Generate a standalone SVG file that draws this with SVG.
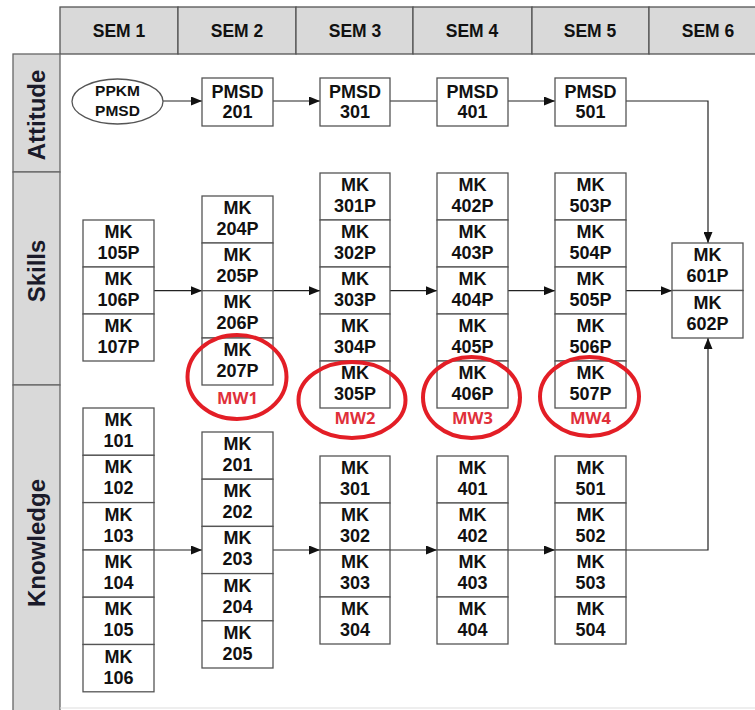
<svg xmlns="http://www.w3.org/2000/svg" width="755" height="710" viewBox="0 0 755 710">
<style>
.hdr{fill:#d9d9d9;stroke:#555;stroke-width:1.3}
.side{fill:#d9d9d9;stroke:#666;stroke-width:1.3}
.box{fill:#fff;stroke:#555;stroke-width:1.3}
.t{font-family:"Liberation Sans",Arial,sans-serif;font-weight:bold;font-size:18px;fill:#111;text-anchor:middle}
.h{font-family:"Liberation Sans",Arial,sans-serif;font-weight:bold;font-size:17.5px;fill:#111;text-anchor:middle}
.s{font-family:"Liberation Sans",Arial,sans-serif;font-weight:bold;font-size:24px;fill:#1a1a2a;text-anchor:middle}
.e{font-family:"Liberation Sans",Arial,sans-serif;font-weight:bold;font-size:15.5px;fill:#111;text-anchor:middle}
.mw{font-family:"Open Sans","Liberation Sans",Arial,sans-serif;font-weight:bold;font-size:16.5px;fill:#e0303a;text-anchor:middle}
.ring{fill:none;stroke:#e31e26;stroke-width:4}
.c{fill:none;stroke:#222;stroke-width:1.2}
</style>
<defs>
<marker id="ah" markerWidth="11" markerHeight="9" refX="11" refY="4.5" orient="auto" markerUnits="userSpaceOnUse">
<path d="M0,0 L11,4.5 L0,9 Z" fill="#111"/>
</marker>
</defs>
<rect width="755" height="710" fill="#fff"/>

<g id="header">
<rect class="hdr" x="60" y="7" width="118" height="47"/>
<rect class="hdr" x="178" y="7" width="118" height="47"/>
<rect class="hdr" x="296" y="7" width="117" height="47"/>
<rect class="hdr" x="413" y="7" width="119" height="47"/>
<rect class="hdr" x="532" y="7" width="117" height="47"/>
<rect class="hdr" x="649" y="7" width="120" height="47"/>
<text class="h" x="119" y="37">SEM 1</text>
<text class="h" x="237" y="37">SEM 2</text>
<text class="h" x="355" y="37">SEM 3</text>
<text class="h" x="472" y="37">SEM 4</text>
<text class="h" x="590" y="37">SEM 5</text>
<text class="h" x="708" y="37">SEM 6</text>
</g>

<g id="rows">
<rect class="side" x="13" y="54" width="47" height="118"/>
<rect class="side" x="13" y="172" width="47" height="213"/>
<rect class="side" x="13" y="385" width="47" height="330"/>
<line x1="60" y1="708" x2="755" y2="708" stroke="#ddd" stroke-width="1"/>
<text class="s" transform="translate(44.5,115) rotate(-90)">Attitude</text>
<text class="s" transform="translate(44.5,271) rotate(-90)">Skills</text>
<text class="s" transform="translate(44.5,543) rotate(-90)">Knowledge</text>
</g>

<g id="connectors">
<line class="c" x1="163" y1="101" x2="202" y2="101" marker-end="url(#ah)"/>
<line class="c" x1="273" y1="101" x2="320" y2="101" marker-end="url(#ah)"/>
<line class="c" x1="390" y1="101" x2="437" y2="101"/>
<line class="c" x1="508" y1="101" x2="555" y2="101" marker-end="url(#ah)"/>
<polyline class="c" points="626,101 708,101 708,243" marker-end="url(#ah)"/>
<line class="c" x1="154" y1="290.7" x2="202" y2="290.7" marker-end="url(#ah)"/>
<line class="c" x1="273" y1="290.7" x2="320" y2="290.7" marker-end="url(#ah)"/>
<line class="c" x1="390" y1="290.7" x2="437" y2="290.7" marker-end="url(#ah)"/>
<line class="c" x1="508" y1="290.7" x2="555" y2="290.7" marker-end="url(#ah)"/>
<line class="c" x1="626" y1="290.7" x2="672" y2="290.7" marker-end="url(#ah)"/>
<line class="c" x1="154" y1="550" x2="202" y2="550" marker-end="url(#ah)"/>
<line class="c" x1="273" y1="550" x2="320" y2="550" marker-end="url(#ah)"/>
<line class="c" x1="390" y1="550" x2="437" y2="550" marker-end="url(#ah)"/>
<line class="c" x1="508" y1="550" x2="555" y2="550" marker-end="url(#ah)"/>
<polyline class="c" points="626,550 708,550 708,338" marker-end="url(#ah)"/>
</g>

<!-- Attitude -->
<g id="ppkm-pmsd"><ellipse class="box" cx="117.5" cy="101.5" rx="45.5" ry="22.5"/><text class="e" x="117.5" y="96">PPKM</text><text class="e" x="117.5" y="116">PMSD</text></g>
<g id="pmsd201"><rect class="box" x="202" y="78" width="71" height="48"/><text class="t" x="237.5" y="98">PMSD</text><text class="t" x="237.5" y="118">201</text></g>
<g id="pmsd301"><rect class="box" x="320" y="78" width="70" height="48"/><text class="t" x="355" y="98">PMSD</text><text class="t" x="355" y="118">301</text></g>
<g id="pmsd401"><rect class="box" x="437" y="78" width="71" height="48"/><text class="t" x="472.5" y="98">PMSD</text><text class="t" x="472.5" y="118">401</text></g>
<g id="pmsd501"><rect class="box" x="555" y="78" width="71" height="48"/><text class="t" x="590.5" y="98">PMSD</text><text class="t" x="590.5" y="118">501</text></g>

<!-- Skills SEM1 -->
<g id="mk105p"><rect class="box" x="83" y="220" width="71" height="47"/><text class="t" x="118.5" y="238">MK</text><text class="t" x="118.5" y="259">105P</text></g>
<g id="mk106p"><rect class="box" x="83" y="267" width="71" height="47"/><text class="t" x="118.5" y="285">MK</text><text class="t" x="118.5" y="306">106P</text></g>
<g id="mk107p"><rect class="box" x="83" y="314" width="71" height="47"/><text class="t" x="118.5" y="332">MK</text><text class="t" x="118.5" y="353">107P</text></g>
<!-- Skills SEM2 -->
<g id="mk204p"><rect class="box" x="202" y="196" width="71" height="47"/><text class="t" x="237.5" y="214">MK</text><text class="t" x="237.5" y="235">204P</text></g>
<g id="mk205p"><rect class="box" x="202" y="243" width="71" height="47.7"/><text class="t" x="237.5" y="261">MK</text><text class="t" x="237.5" y="282">205P</text></g>
<g id="mk206p"><rect class="box" x="202" y="290.7" width="71" height="47.3"/><text class="t" x="237.5" y="308">MK</text><text class="t" x="237.5" y="329">206P</text></g>
<g id="mk207p"><rect class="box" x="202" y="338" width="71" height="47"/><text class="t" x="237.5" y="356">MK</text><text class="t" x="237.5" y="377">207P</text></g>
<!-- Skills SEM3 -->
<g id="mk301p"><rect class="box" x="320" y="173" width="70" height="47"/><text class="t" x="355" y="191">MK</text><text class="t" x="355" y="212">301P</text></g>
<g id="mk302p"><rect class="box" x="320" y="220" width="70" height="47"/><text class="t" x="355" y="238">MK</text><text class="t" x="355" y="259">302P</text></g>
<g id="mk303p"><rect class="box" x="320" y="267" width="70" height="47"/><text class="t" x="355" y="285">MK</text><text class="t" x="355" y="306">303P</text></g>
<g id="mk304p"><rect class="box" x="320" y="314" width="70" height="47"/><text class="t" x="355" y="332">MK</text><text class="t" x="355" y="353">304P</text></g>
<g id="mk305p"><rect class="box" x="320" y="361" width="70" height="47"/><text class="t" x="355" y="379">MK</text><text class="t" x="355" y="400">305P</text></g>
<!-- Skills SEM4 -->
<g id="mk402p"><rect class="box" x="437" y="173" width="71" height="47"/><text class="t" x="472.5" y="191">MK</text><text class="t" x="472.5" y="212">402P</text></g>
<g id="mk403p"><rect class="box" x="437" y="220" width="71" height="47"/><text class="t" x="472.5" y="238">MK</text><text class="t" x="472.5" y="259">403P</text></g>
<g id="mk404p"><rect class="box" x="437" y="267" width="71" height="47"/><text class="t" x="472.5" y="285">MK</text><text class="t" x="472.5" y="306">404P</text></g>
<g id="mk405p"><rect class="box" x="437" y="314" width="71" height="47"/><text class="t" x="472.5" y="332">MK</text><text class="t" x="472.5" y="353">405P</text></g>
<g id="mk406p"><rect class="box" x="437" y="361" width="71" height="47"/><text class="t" x="472.5" y="379">MK</text><text class="t" x="472.5" y="400">406P</text></g>
<!-- Skills SEM5 -->
<g id="mk503p"><rect class="box" x="555" y="173" width="71" height="47"/><text class="t" x="590.5" y="191">MK</text><text class="t" x="590.5" y="212">503P</text></g>
<g id="mk504p"><rect class="box" x="555" y="220" width="71" height="47"/><text class="t" x="590.5" y="238">MK</text><text class="t" x="590.5" y="259">504P</text></g>
<g id="mk505p"><rect class="box" x="555" y="267" width="71" height="47"/><text class="t" x="590.5" y="285">MK</text><text class="t" x="590.5" y="306">505P</text></g>
<g id="mk506p"><rect class="box" x="555" y="314" width="71" height="47"/><text class="t" x="590.5" y="332">MK</text><text class="t" x="590.5" y="353">506P</text></g>
<g id="mk507p"><rect class="box" x="555" y="361" width="71" height="47"/><text class="t" x="590.5" y="379">MK</text><text class="t" x="590.5" y="400">507P</text></g>
<!-- Skills SEM6 -->
<g id="mk601p"><rect class="box" x="672" y="243" width="71" height="47.5"/><text class="t" x="707.5" y="261">MK</text><text class="t" x="707.5" y="282">601P</text></g>
<g id="mk602p"><rect class="box" x="672" y="290.5" width="71" height="47.5"/><text class="t" x="707.5" y="308.5">MK</text><text class="t" x="707.5" y="329.5">602P</text></g>

<!-- Knowledge SEM1 -->
<g id="mk101"><rect class="box" x="83" y="408" width="71" height="47.3"/><text class="t" x="118.5" y="426">MK</text><text class="t" x="118.5" y="447">101</text></g>
<g id="mk102"><rect class="box" x="83" y="455.3" width="71" height="47.3"/><text class="t" x="118.5" y="473.3">MK</text><text class="t" x="118.5" y="494.3">102</text></g>
<g id="mk103"><rect class="box" x="83" y="502.6" width="71" height="47.4"/><text class="t" x="118.5" y="520.6">MK</text><text class="t" x="118.5" y="541.6">103</text></g>
<g id="mk104"><rect class="box" x="83" y="550" width="71" height="47.2"/><text class="t" x="118.5" y="568">MK</text><text class="t" x="118.5" y="589">104</text></g>
<g id="mk105"><rect class="box" x="83" y="597.2" width="71" height="47.3"/><text class="t" x="118.5" y="615.2">MK</text><text class="t" x="118.5" y="636.2">105</text></g>
<g id="mk106"><rect class="box" x="83" y="644.5" width="71" height="47.3"/><text class="t" x="118.5" y="662.5">MK</text><text class="t" x="118.5" y="683.5">106</text></g>
<!-- Knowledge SEM2 -->
<g id="mk201"><rect class="box" x="202" y="432" width="71" height="47.2"/><text class="t" x="237.5" y="450">MK</text><text class="t" x="237.5" y="471">201</text></g>
<g id="mk202"><rect class="box" x="202" y="479.2" width="71" height="47.2"/><text class="t" x="237.5" y="497.2">MK</text><text class="t" x="237.5" y="518.2">202</text></g>
<g id="mk203"><rect class="box" x="202" y="526.4" width="71" height="47.2"/><text class="t" x="237.5" y="544.4">MK</text><text class="t" x="237.5" y="565.4">203</text></g>
<g id="mk204"><rect class="box" x="202" y="573.6" width="71" height="47.2"/><text class="t" x="237.5" y="591.6">MK</text><text class="t" x="237.5" y="612.6">204</text></g>
<g id="mk205"><rect class="box" x="202" y="620.8" width="71" height="47.2"/><text class="t" x="237.5" y="638.8">MK</text><text class="t" x="237.5" y="659.8">205</text></g>
<!-- Knowledge SEM3 -->
<g id="mk301"><rect class="box" x="320" y="456" width="70" height="47"/><text class="t" x="355" y="474">MK</text><text class="t" x="355" y="495">301</text></g>
<g id="mk302"><rect class="box" x="320" y="503" width="70" height="47"/><text class="t" x="355" y="521">MK</text><text class="t" x="355" y="542">302</text></g>
<g id="mk303"><rect class="box" x="320" y="550" width="70" height="47"/><text class="t" x="355" y="568">MK</text><text class="t" x="355" y="589">303</text></g>
<g id="mk304"><rect class="box" x="320" y="597" width="70" height="47"/><text class="t" x="355" y="615">MK</text><text class="t" x="355" y="636">304</text></g>
<!-- Knowledge SEM4 -->
<g id="mk401"><rect class="box" x="437" y="456" width="71" height="47"/><text class="t" x="472.5" y="474">MK</text><text class="t" x="472.5" y="495">401</text></g>
<g id="mk402"><rect class="box" x="437" y="503" width="71" height="47"/><text class="t" x="472.5" y="521">MK</text><text class="t" x="472.5" y="542">402</text></g>
<g id="mk403"><rect class="box" x="437" y="550" width="71" height="47"/><text class="t" x="472.5" y="568">MK</text><text class="t" x="472.5" y="589">403</text></g>
<g id="mk404"><rect class="box" x="437" y="597" width="71" height="47"/><text class="t" x="472.5" y="615">MK</text><text class="t" x="472.5" y="636">404</text></g>
<!-- Knowledge SEM5 -->
<g id="mk501"><rect class="box" x="555" y="456" width="71" height="47"/><text class="t" x="590.5" y="474">MK</text><text class="t" x="590.5" y="495">501</text></g>
<g id="mk502"><rect class="box" x="555" y="503" width="71" height="47"/><text class="t" x="590.5" y="521">MK</text><text class="t" x="590.5" y="542">502</text></g>
<g id="mk503"><rect class="box" x="555" y="550" width="71" height="47"/><text class="t" x="590.5" y="568">MK</text><text class="t" x="590.5" y="589">503</text></g>
<g id="mk504"><rect class="box" x="555" y="597" width="71" height="47"/><text class="t" x="590.5" y="615">MK</text><text class="t" x="590.5" y="636">504</text></g>

<!-- Highlights -->
<g id="mw1"><ellipse class="ring" cx="237" cy="377" rx="49.5" ry="42"/><text class="mw" x="237.5" y="404">MW1</text></g>
<g id="mw2"><ellipse class="ring" cx="352" cy="400" rx="53.5" ry="38"/><text class="mw" x="355" y="424">MW2</text></g>
<g id="mw3"><ellipse class="ring" cx="471.5" cy="397.5" rx="48.5" ry="40.5"/><text class="mw" x="472.5" y="424">MW3</text></g>
<g id="mw4"><ellipse class="ring" cx="589.5" cy="396.5" rx="49.5" ry="39.5"/><text class="mw" x="590.5" y="424">MW4</text></g>
</svg>
